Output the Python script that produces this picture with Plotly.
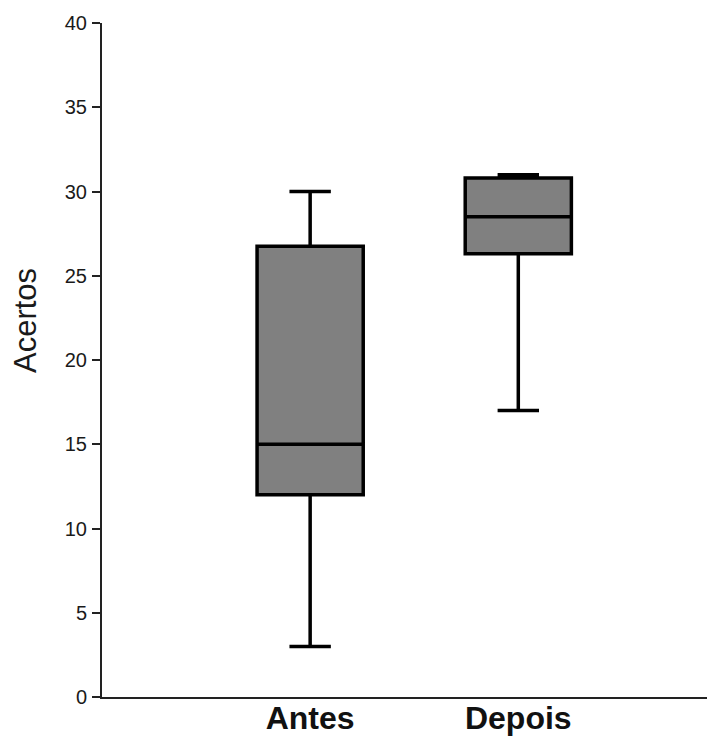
import plotly.graph_objects as go

categories = ["Antes", "Depois"]
lower_whisker = [3.0, 17.0]
q1_values = [12.0, 26.3]
median_values = [15.0, 28.5]
q3_values = [26.75, 30.8]
upper_whisker = [30.0, 31.0]

y_ticks = [0, 5, 10, 15, 20, 25, 30, 35, 40]

fig = go.Figure()
fig.add_trace(go.Box(
    x=categories,
    q1=q1_values,
    median=median_values,
    q3=q3_values,
    lowerfence=lower_whisker,
    upperfence=upper_whisker,
    boxpoints=False,
    fillcolor="#808080",
    line=dict(color="#000000", width=3.5),
    width=0.51,
    whiskerwidth=0.39,
    showlegend=False,
    hoverinfo="skip",
))

# page body has an 8px default margin, so the figure is sized/offset to fit
fig.update_layout(
    width=707, height=728,
    margin=dict(l=94, r=0, t=15, b=39),
    paper_bgcolor="white", plot_bgcolor="white",
    font=dict(family="Liberation Sans, Arial, sans-serif", color="#1a1a1a"),
    xaxis=dict(
        type="category",
        range=[-1.0, 1.945],
        automargin=False,
        showline=True, linecolor="#222222", linewidth=2,
        ticks="", showgrid=False, zeroline=False,
        tickfont=dict(family="Liberation Sans, Arial", size=32, color="#111111", weight="bold"),
        ticklabelstandoff=-8,
    ),
    yaxis=dict(
        range=[0, 40],
        tickvals=y_ticks,
        automargin=False,
        showline=True, linecolor="#222222", linewidth=2,
        ticks="outside", ticklen=8, tickwidth=2, tickcolor="#222222",
        showgrid=False, zeroline=False,
        tickfont=dict(size=20, color="#1a1a1a"),
        ticklabelstandoff=1,
    ),
    annotations=[dict(
        text="Acertos", textangle=-90,
        xref="paper", yref="paper",
        x=(26 - 102) / 613, y=(697 - 321) / 674,
        xanchor="center", yanchor="middle",
        showarrow=False,
        font=dict(size=31, color="#1a1a1a"),
    )],
)

fig.write_html("out.html")
